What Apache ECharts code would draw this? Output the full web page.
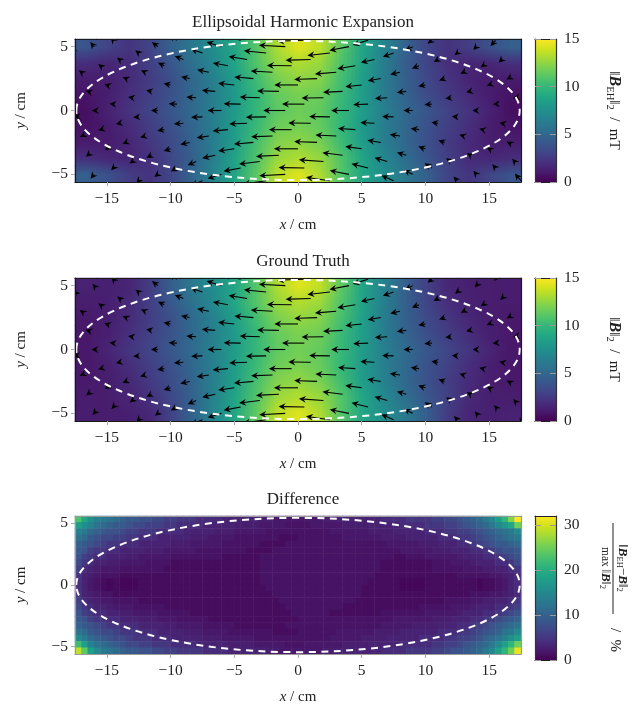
<!DOCTYPE html>
<html>
<head>
<meta charset="utf-8">
<style>html,body{margin:0;padding:0;background:#fff}#c{width:635px;height:706px}</style>
<script src="https://cdn.jsdelivr.net/npm/echarts@6/dist/echarts.min.js"></script>
</head>
<body>
<div id="c"></div>
<script>
const FONT = '"Liberation Serif", serif';
const viridis = ['#440154','#481a6c','#472f7d','#414487','#39568c','#31688e','#2a788e','#23888e','#1f988b','#22a884','#35b779','#54c568','#7ad151','#a5db36','#d2e21b','#fde725'];
const titles = ['Ellipsoidal Harmonic Expansion','Ground Truth','Difference'];
const xTicks = [-15,-10,-5,0,5,10,15];
const yTicks = [-5,0,5];
const bar1Ticks = [0,5,10,15];
const bar3Ticks = [0,10,20,30];
const ellipseAxes = [17.4,5.45];

// |B| in mT, rows top to bottom
const fieldEH = [
[3.9,3.0,2.3,3.0,4.6,6.0,7.4,8.9,11.0,13.2,14.3,13.5,11.2,8.8,6.8,4.8,3.1,2.2,2.7,3.7,4.5],
[1.9,1.6,1.8,2.8,4.0,5.5,7.0,8.8,10.9,12.6,13.2,12.7,10.8,8.6,6.4,4.5,3.1,2.0,1.5,1.6,2.0],
[1.2,1.2,1.8,2.6,3.7,5.0,6.5,8.3,10.3,11.9,12.5,12.2,10.5,8.4,6.3,4.6,3.3,2.3,1.5,1.1,1.1],
[0.8,1.2,2.0,2.8,3.8,5.0,6.4,8.1,9.9,11.4,11.9,11.6,10.2,8.3,6.3,4.8,3.5,2.6,1.8,1.1,0.7],
[0.6,1.4,2.2,3.0,4.0,5.1,6.5,8.2,9.9,11.2,11.7,11.3,10.0,8.3,6.5,5.1,4.0,3.0,2.2,1.4,0.6],
[0.7,1.1,1.8,2.7,3.7,4.9,6.4,8.3,10.1,11.6,11.9,11.4,9.9,8.1,6.4,5.0,3.8,2.8,2.0,1.2,0.8],
[1.1,1.1,1.5,2.4,3.4,4.7,6.4,8.4,10.5,12.2,12.5,11.9,10.3,8.3,6.5,5.0,3.7,2.6,1.8,1.2,1.2],
[2.0,1.6,1.5,2.1,3.2,4.6,6.5,8.7,10.8,12.7,13.2,12.6,10.9,8.8,7.0,5.4,4.0,2.8,1.8,1.6,1.9],
[4.5,3.7,2.7,2.2,3.1,4.8,6.8,8.8,11.2,13.5,14.3,13.2,11.0,8.9,7.4,6.0,4.6,3.0,2.3,3.0,3.9]];
const fieldGT = [
[1.4,1.3,1.5,2.6,4.5,6.1,7.4,8.9,11.0,13.2,14.3,13.6,11.3,8.8,6.7,4.6,2.9,1.6,1.3,1.2,1.1],
[1.2,1.3,1.7,2.8,4.1,5.6,7.1,8.9,11.0,12.7,13.3,12.8,10.9,8.7,6.5,4.6,3.1,2.0,1.4,1.2,1.1],
[1.0,1.2,1.8,2.7,3.8,5.1,6.6,8.4,10.4,12.0,12.6,12.2,10.6,8.5,6.4,4.7,3.4,2.4,1.6,1.2,1.0],
[0.9,1.3,2.0,2.9,3.9,5.1,6.5,8.2,10.0,11.5,12.0,11.7,10.2,8.4,6.4,4.9,3.6,2.7,1.9,1.3,0.9],
[0.9,1.5,2.3,3.1,4.1,5.2,6.6,8.3,10.0,11.3,11.8,11.4,10.1,8.4,6.6,5.2,4.1,3.1,2.3,1.5,0.9],
[0.9,1.3,1.9,2.8,3.8,5.0,6.5,8.4,10.2,11.7,12.0,11.5,10.0,8.2,6.5,5.1,3.9,2.9,2.0,1.3,0.9],
[1.0,1.2,1.6,2.5,3.5,4.8,6.5,8.5,10.6,12.2,12.6,12.0,10.4,8.4,6.6,5.1,3.8,2.7,1.8,1.2,1.0],
[1.1,1.2,1.5,2.1,3.3,4.7,6.6,8.8,10.9,12.8,13.3,12.7,11.0,8.9,7.1,5.5,4.1,2.9,1.7,1.3,1.2],
[1.1,1.2,1.3,1.6,3.0,4.7,6.8,8.9,11.3,13.6,14.3,13.2,11.0,8.9,7.4,6.1,4.5,2.6,1.5,1.3,1.4]];
// relative difference in %, rows top to bottom
const diffRows = [
[23,19,16,14,13,12,11,10,9,9,8,8,7,7,6,6,5,5,5,4,4,4,4,3,3,3,3,3,3,2.5,2.5,2,2,2,2,2,2,2,2,2.5,2.5,3,3,3,3,3,3,3,4,4,4,4,5,5,5,5,6,6,7,7,8,9,10,11,13,15,18,21,26,32],
[18,16,14,12,11,10,9,9,8,7,7,6,6,6,5,5,4,4,4,4,3,3,3,3,3,2.5,2.5,2.5,2.5,2,2,2,2,1.5,1.5,1.5,1.5,2,2,2,2,2,2.5,2.5,2.5,2.5,3,3,3,3,3,4,4,4,4,5,5,5,6,6,7,8,9,10,11,13,15,17,19,25],
[14,13,11,10,9,8,8,7,6,6,5,5,5,4,4,4,4,3,3,3,3,3,2.5,2.5,2.5,2,2,2,2,2,1.5,1.5,1.5,1.5,1.5,1.5,1.5,1.5,1.5,1.5,2,2,2,2,2,2,2.5,2.5,2.5,2.5,3,3,3,3,3,4,4,4,5,5,6,6,7,8,9,10,11,12,13,15],
[12,11,9,8,7,7,6,6,5,5,4,4,4,3,3,3,3,3,2.5,2.5,2.5,2,2,2,2,1.5,1.5,1.5,1.5,1.5,1.5,1.5,1,1,1,1.5,1.5,1.5,1.5,1.5,1.5,1.5,2,2,2,2,2,2,2.5,2.5,2.5,2.5,3,3,3,3,3,4,4,4,5,5,6,7,8,9,10,11,12,13],
[10,9,8,7,6,5,5,4,4,4,3,3,3,3,3,2.5,2.5,2.5,2,2,2,2,2,1.5,1.5,1.5,1.5,1.5,1.5,1,1,1,1,1.5,1.5,1.5,1.5,1.5,1.5,1.5,1.5,1.5,1.5,1.5,1.5,1.5,1.5,1.5,1.5,2,2,2,2,2,2.5,2.5,2.5,3,3,3,4,4,5,6,7,8,9,9,10,11],
[9,8,6,5,5,4,4,3,3,3,3,2.5,2.5,2.5,2,2,2,2,2,1.5,1.5,1.5,1.5,1.5,1.5,1.5,1.5,1,1,1,1,1.5,1.5,1.5,1.5,1.5,1.5,1.5,1.5,1.5,1.5,1.5,1.5,1.5,1.5,1.5,1.5,1.5,1.5,1.5,1.5,2,2,2,2,2,2.5,2.5,2.5,3,3,3,4,4,5,6,7,8,8,9],
[8,6,5,4,4,3,3,3,2.5,2.5,2,2,2,2,2,1.5,1.5,1.5,1.5,1.5,1.5,1.5,1.5,1,1,1,1,1,1,1.5,1.5,1.5,1.5,1.5,1.5,1.5,1.5,1.5,1.5,1.5,1.5,1.5,1.5,1.5,1.5,1.5,1.5,1.5,1.5,1.5,1,1,1.5,1.5,1.5,2,2,2,2,2,2.5,3,3,3,4,4,5,6,7,8],
[7,5,4,3,3,2.5,2.5,2,2,2,2,1.5,1.5,1.5,1.5,1,1,1,1,1,1,1,1,1,1,1,1,1,1,1.5,1.5,1.5,1.5,1.5,1.5,1.5,1.5,1.5,1.5,1.5,1.5,1.5,1.5,1.5,1.5,1.5,1.5,1.5,1,1,1,1,1,1,1,1,1.5,1.5,1.5,2,2,2,2.5,3,3,3,4,4,5,7],
[6,4,3,2.5,2,2,2,1.5,1.5,1.5,1.5,1.5,1.5,1.5,1,1,1,1,1,1,1,1,1,1,1,1,1,1,1,1.5,1.5,1.5,1.5,1.5,1.5,1.5,1.5,1.5,1.5,1.5,1.5,1.5,1.5,1.5,1.5,1.5,1.5,1.5,1,1,1,1,1,1,1,1,1.5,1.5,1.5,1.5,1.5,2,2,2,2.5,2.5,3,3,4,5],
[5,3,2.5,2,1.5,1.5,1.5,1,1,1,1,1,1,1,1,1,1,1,1,1,1,1,1,1,1,1,1,1,1,1.5,1.5,1.5,1.5,1.5,1.5,1.5,1.5,1.5,1.5,1.5,1.5,1.5,1.5,1.5,1.5,1.5,1.5,1,1,1,1,1,1,1,1,1,1,1,1,1,1.5,1.5,1.5,1.5,1.5,2,2,2.5,3,4],
[4.5,3,2,1.5,1,0.5,1,0.5,0.5,0.5,1,1,1,1,1,1,1,1,1,1,1,1,1,1,1,1,1,1,1,1.5,1.5,1.5,1.5,1.5,1.5,1.5,1.5,1.5,1.5,1.5,1.5,1.5,1.5,1.5,1.5,1.5,1,1,1,1,1,0.5,0.5,0.5,0.5,1,1,1,1,1,1,1,1,0.5,1,1,1.5,2,3,4],
[4.5,3,2,1.5,1,0.5,1,0.5,0.5,0.5,1,1,1,1,1,1,1,1,1,1,1,1,1,1,1,1,1,1,1,1,1.5,1.5,1.5,1.5,1.5,1.5,1.5,1.5,1.5,1.5,1.5,1.5,1.5,1.5,1.5,1,1,1,1,1,1,0.5,0.5,0.5,0.5,1,1,1,1,1,1,1,1,0.5,1,1,1.5,2,3,4],
[5,3,2.5,2,1.5,1.5,1,1,1,1,1,1,1,1,1,1,1,1,1,1,1,1,1,1,1,1,1,1,1,1,1,1.5,1.5,1.5,1.5,1.5,1.5,1.5,1.5,1.5,1.5,1.5,1.5,1.5,1.5,1,1,1,1,1,1,1,1,1,1,1,1,1,1,1,1,1,1.5,1.5,1.5,2,2,2.5,3,4],
[6,4,3,2.5,2,2,1.5,1.5,1.5,1.5,1,1,1,1,1,1,1,1,1,1,1,1,1,1,1,1,1,1,1,1,1,1,1.5,1.5,1.5,1.5,1.5,1.5,1.5,1.5,1.5,1.5,1.5,1.5,1,1,1,1,1,1,1,1,1,1,1,1,1,1,1.5,1.5,1.5,1.5,2,2,2.5,2.5,3,3,4,5],
[7,5,4,3,3,2.5,2,2,2,1.5,1.5,1.5,1.5,1.5,1,1,1,1,1,1,1,1,1,1,1,1,1,1,1,1,1,1,1,1.5,1.5,1.5,1.5,1.5,1.5,1.5,1.5,1.5,1,1,1,1,1,1,1,1,1,1,1,1,1.5,1.5,1.5,1.5,1.5,2,2,2,2.5,3,3,3,4,4,5,6],
[8,6,5,4,4,3,3,2.5,2.5,2,2,2,2,1.5,1.5,1.5,1.5,1.5,1,1,1,1,1,1,1,1,1,1,1,1,1,1,1,1,1.5,1.5,1.5,1.5,1.5,1.5,1,1,1,1,1,1,1,1,1.5,1.5,1.5,1.5,1.5,1.5,1.5,2,2,2,2,2,2.5,3,3,3,4,4,5,6,7,8],
[9,8,6,5,5,4,4,3,3,3,2.5,2.5,2.5,2,2,2,1.5,1.5,1.5,1.5,1.5,1,1,1,1,1,1,1,1,1,1,1,1,1,1,1.5,1.5,1.5,1.5,1.5,1.5,1.5,1.5,1.5,1.5,1.5,1.5,1.5,1.5,1.5,2,2,2,2,2,2,2.5,2.5,2.5,3,3,3,4,4,5,6,7,8,9,10],
[10,9,8,7,6,5,5,4,4,4,3,3,3,3,2.5,2.5,2,2,2,2,1.5,1.5,1.5,1.5,1.5,1,1,1,1,1,1,1,1,1.5,1.5,1.5,1.5,1.5,1.5,1.5,1.5,1.5,1.5,1.5,1.5,1.5,1.5,1.5,2,2,2,2,2,2.5,2.5,2.5,2.5,3,3,3,4,4,5,6,7,8,9,10,11,12],
[12,11,9,8,7,7,6,5,5,5,4,4,4,3,3,3,3,2.5,2.5,2.5,2,2,2,2,1.5,1.5,1.5,1.5,1.5,1.5,1.5,1,1,1,1,1.5,1.5,1.5,1.5,1.5,1.5,2,2,2,2,2,2,2.5,2.5,2.5,2.5,3,3,3,3,3,3,4,4,4,5,5,6,7,8,9,10,12,13,15],
[15,13,11,10,9,8,7,7,6,5,5,5,4,4,4,3,3,3,3,3,2.5,2.5,2.5,2,2,2,2,2,1.5,1.5,1.5,1.5,1.5,1.5,1.5,1.5,1.5,1.5,1.5,1.5,2,2,2,2,2,2.5,2.5,2.5,2.5,3,3,3,3,3,4,4,4,4,5,5,6,6,7,8,10,11,12,14,16,18],
[22,18,14,12,11,10,9,8,7,7,6,6,5,5,5,4,4,4,4,3,3,3,3,3,2.5,2.5,2.5,2.5,2,2,2,2,2,1.5,1.5,1.5,2,2,2,2,2,2,2.5,2.5,2.5,2.5,3,3,3,3,3,4,4,4,4,4,5,5,6,6,7,8,9,10,11,13,15,18,21,25],
[29,24,18,15,13,12,11,10,9,9,8,8,7,7,6,6,5,5,5,5,4,4,4,4,3,3,3,3,3,3,2.5,2.5,2,2,2,2,2,2,2,2.5,2.5,3,3,3,3,3,3,3,4,4,4,4,5,5,5,5,6,6,7,8,8,9,10,11,13,15,18,21,25,31]];

// arrow tails, rows top to bottom
const arrowY = [5.5,5,4.5,4,3.5,3,2.5,2,1.5,1,0.5,0,-0.5,-1,-1.5,-2,-2.5,-3,-3.5,-4,-4.5,-5,-5.5];
const arrowX = [
[-14.5,-9.5,-4.5,0.5,5.5,10.5,15.5],[-16,-11,-6,-1,4,9,14],[-17.5,-12.5,-7.5,-2.5,2.5,7.5,12.5],[-14,-9,-4,1,6,11,16],
[-15.5,-10.5,-5.5,-0.5,4.5,9.5,14.5],[-17,-12,-7,-2,3,8,13],[-13.5,-8.5,-3.5,1.5,6.5,11.5,16.5],[-15,-10,-5,0,5,10,15],
[-16.5,-11.5,-6.5,-1.5,3.5,8.5,13.5],[-13,-8,-3,2,7,12,17],[-14.5,-9.5,-4.5,0.5,5.5,10.5,15.5],[-16,-11,-6,-1,4,9,14],
[-17.5,-12.5,-7.5,-2.5,2.5,7.5,12.5],[-14,-9,-4,1,6,11,16],[-15.5,-10.5,-5.5,-0.5,4.5,9.5,14.5],[-17,-12,-7,-2,3,8,13],
[-13.5,-8.5,-3.5,1.5,6.5,11.5,16.5],[-15,-10,-5,0,5,10,15],[-16.5,-11.5,-6.5,-1.5,3.5,8.5,13.5],[-13,-8,-3,2,7,12,17],
[-14.5,-9.5,-4.5,0.5,5.5,10.5,15.5],[-16,-11,-6,-1,4,9,14],[-12.5,-7.5,-2.5,2.5,7.5,12.5,17.5]];
// arrow direction in degrees from -x, positive = upward
const arrowAngle = [
[50,33,14,-2,-17,-40,-50],[50,38,17,3,-11,-28,-48],[50,39,19,6,-6,-19,-39],[39,22,9,-2,-13,-31,-45],
[38,26,11,1,-9,-21,-36],[36,25,12,3,-5,-13,-27],[24,12,5,-2,-9,-20,-29],[21,12,6,0,-6,-11,-21],
[17,12,5,1,-3,-7,-14],[9,4,2,-1,-4,-8,-12],[5,2,1,0,-2,-4,-5],[0,0,0,0,0,0,0],
[-6,-4,-2,-1,1,2,4],[-10,-5,-2,1,3,8,11],[-16,-9,-5,0,4,8,15],[-24,-17,-8,-2,3,9,18],
[-24,-12,-5,2,9,20,29],[-32,-17,-8,0,8,17,32],[-40,-28,-13,-3,7,16,33],[-36,-24,-7,4,17,34,48],
[-46,-30,-11,1,14,33,49],[-50,-38,-17,-3,11,25,49],[-48,-23,-8,8,23,48,50]];
const arrowLenEH = [
[2.1,5.2,9.6,14.2,8.4,2.9,4.0],[3.2,3.9,8.2,13.8,10.4,4.5,2.4],[3.6,2.3,6.5,11.7,11.8,5.9,1.9],[1.7,4.8,9.7,13.2,7.3,2.7,2.4],
[1.5,3.6,8.0,12.9,9.5,4.0,1.4],[1.7,2.4,6.2,11.4,11.2,5.2,1.9],[1.9,4.6,10.0,12.0,6.9,3.0,1.1],[1.4,3.7,8.5,12.4,8.6,3.8,1.3],
[1.1,2.9,7.0,11.4,10.2,5.0,2.1],[2.3,5.1,10.5,11.4,6.5,3.0,0.8],[2.0,4.3,8.9,11.7,7.8,3.9,1.4],[1.2,3.6,7.3,11.5,9.3,4.8,2.1],
[0.7,2.9,5.9,10.6,10.8,6.0,2.9],[2.0,4.9,9.3,11.7,7.4,3.6,1.3],[1.2,3.7,8.0,11.9,9.1,4.4,1.9],[0.9,2.7,6.4,11.2,10.9,5.4,2.3],
[2.0,5.0,10.2,12.0,7.1,3.4,1.0],[1.2,3.8,8.5,12.6,8.7,3.9,1.4],[1.3,3.0,6.9,12.0,10.6,5.1,2.0],[1.8,4.8,10.9,12.9,6.9,3.1,2.0],
[1.6,3.7,9.1,13.5,8.9,4.5,2.6],[3.0,2.3,7.6,13.6,10.2,5.3,2.4],[1.9,6.6,12.2,12.6,6.9,3.0,5.0]];
const arrowLenGT = [
[1.4,5.2,9.6,14.2,8.4,2.9,1.2],[1.3,3.9,8.2,13.8,10.4,4.5,1.3],[1.1,2.2,6.5,11.7,11.8,5.9,1.5],[1.6,4.8,9.7,13.2,7.3,2.7,1.2],
[1.4,3.6,8.0,12.9,9.5,4.0,1.3],[1.1,2.4,6.2,11.4,11.2,5.2,1.7],[1.9,4.6,10.0,12.0,6.9,3.0,1.0],[1.5,3.7,8.5,12.4,8.6,3.8,1.4],
[1.2,2.9,7.0,11.4,10.2,5.0,2.1],[2.3,5.1,10.5,11.4,6.5,3.0,0.9],[2.0,4.3,8.9,11.7,7.8,3.9,1.5],[1.4,3.6,7.3,11.5,9.3,4.8,2.1],
[0.9,2.9,5.9,10.6,10.8,6.0,2.9],[2.0,4.9,9.3,11.7,7.4,3.6,1.4],[1.3,3.7,8.0,11.9,9.1,4.4,1.9],[1.0,2.7,6.4,11.2,10.9,5.4,2.3],
[2.0,5.0,10.2,12.0,7.1,3.4,1.0],[1.3,3.8,8.5,12.6,8.7,3.9,1.4],[1.1,3.0,6.9,12.0,10.6,5.1,2.0],[1.7,4.8,10.9,12.9,6.9,3.1,1.1],
[1.4,3.7,9.1,13.5,8.9,4.5,1.3],[1.2,2.0,7.6,13.6,10.2,5.3,1.4],[1.7,6.6,12.2,12.6,6.9,2.6,1.3]];

const CM_PER_MT = 0.15;
const XR = [-17.5,17.5], YR = [-5.6,5.6];
const panels = [
  {top:39, h:143, rows:fieldEH, len:arrowLenEH, max:15, ticks:bar1Ticks, smooth:true, frame:'#1a1a1a'},
  {top:278, h:143, rows:fieldGT, len:arrowLenGT, max:15, ticks:bar1Ticks, smooth:true, frame:'#1a1a1a'},
  {top:516, h:144, rows:diffRows, len:null, max:32, ticks:bar3Ticks, smooth:false, frame:'#9a9a9a'}
];
const L = 75, W = 446, BL = 535, BW = 21;

const minus = v => String(v).replace('-', '\u2212');
const grid=[], xAxis=[], yAxis=[], series=[], visualMap=[], title=[];
const tickStyle = {show:true, length:4, lineStyle:{color:'#aaa', width:1}};
const labelBase = {fontFamily:FONT, fontSize:15.5, color:'#222'};

function makeSmooth(rows, max){
  const r = rows.length, c = rows[0].length;
  const cv = document.createElement('canvas'); cv.width = c; cv.height = r;
  const ctx = cv.getContext('2d');
  for (let j=0;j<r;j++) for (let i=0;i<c;i++){
    ctx.fillStyle = echarts.color.lerp(Math.min(1,rows[j][i]/max), viridis);
    ctx.fillRect(i,j,1,1);
  }
  return cv;
}

panels.forEach((p,k)=>{
  const g = grid.length;
  grid.push({left:L, top:p.top, width:W, height:p.h, containLabel:false});
  const x0 = xAxis.length, y0 = yAxis.length;
  xAxis.push({gridIndex:g, type:'value', min:XR[0], max:XR[1], position:'bottom', z:10,
    axisLine:{show:true, onZero:false, lineStyle:{color:p.frame, width:1.2}},
    axisTick:Object.assign({customValues:xTicks}, tickStyle),
    axisLabel:Object.assign({customValues:xTicks, formatter:minus, margin:9}, labelBase),
    splitLine:{show:false},
    name:'{i|x} / cm', nameLocation:'middle', nameGap:36,
    nameTextStyle:{fontFamily:FONT, fontSize:15, color:'#222', rich:{i:{fontFamily:FONT, fontStyle:'italic', fontSize:15, color:'#222'}}}});
  xAxis.push({gridIndex:g, type:'value', min:XR[0], max:XR[1], position:'top', z:10,
    axisLine:{show:true, onZero:false, lineStyle:{color:p.frame, width:1.2}},
    axisTick:{show:false}, axisLabel:{show:false}, splitLine:{show:false}});
  xAxis.push({gridIndex:g, type:'category', show:false, data:p.rows[0].map((_,i)=>i)});
  yAxis.push({gridIndex:g, type:'value', min:YR[0], max:YR[1], position:'left', z:10,
    axisLine:{show:true, onZero:false, lineStyle:{color:p.frame, width:1.2}},
    axisTick:Object.assign({customValues:yTicks}, tickStyle),
    axisLabel:Object.assign({customValues:yTicks, formatter:minus, margin:7}, labelBase),
    splitLine:{show:false},
    name:'{i|y} / cm', nameLocation:'middle', nameGap:46,
    nameTextStyle:{fontFamily:FONT, fontSize:15, color:'#222', rich:{i:{fontFamily:FONT, fontStyle:'italic', fontSize:15, color:'#222'}}}});
  yAxis.push({gridIndex:g, type:'value', min:YR[0], max:YR[1], position:'right', z:10,
    axisLine:{show:true, onZero:false, lineStyle:{color:p.frame, width:1.2}},
    axisTick:{show:false}, axisLabel:{show:false}, splitLine:{show:false}});
  yAxis.push({gridIndex:g, type:'category', show:false, data:p.rows.map((_,j)=>j)});

  const nr = p.rows.length;
  const cells = [];
  p.rows.forEach((row,j)=>row.forEach((v,i)=>cells.push([i, nr-1-j, v])));
  const hs = series.length;
  series.push({type:'heatmap', xAxisIndex:x0+2, yAxisIndex:y0+2, data:cells, silent:true, progressive:0, z:1,
    itemStyle:{borderWidth:0}, emphasis:{disabled:true}});
  visualMap.push({show:false, type:'continuous', seriesIndex:hs, min:0, max:p.max, dimension:2, inRange:{color:viridis}});

  if (p.smooth){
    const cv = makeSmooth(p.rows, p.max);
    series.push({type:'custom', xAxisIndex:x0, yAxisIndex:y0, silent:true, z:2, data:[[0]],
      renderItem:(params,api)=>{
        const a = api.coord([XR[0],YR[1]]), b = api.coord([XR[1],YR[0]]);
        return {type:'image', style:{image:cv, x:a[0], y:a[1], width:b[0]-a[0], height:b[1]-a[1]}};
      }});
  }
  if (p.len){
    const data = [];
    arrowY.forEach((y,r)=>arrowX[r].forEach((x,c)=>data.push([x,y,p.len[r][c],arrowAngle[r][c]])));
    series.push({type:'custom', xAxisIndex:x0, yAxisIndex:y0, silent:true, clip:true, z:3, data,
      encode:{x:0,y:1},
      renderItem:(params,api)=>{
        const x=api.value(0), y=api.value(1), m=api.value(2), th=api.value(3)*Math.PI/180;
        const l=m*CM_PER_MT;
        const t=api.coord([x,y]), tip=api.coord([x-l*Math.cos(th), y+l*Math.sin(th)]);
        const dx=tip[0]-t[0], dy=tip[1]-t[1], d=Math.hypot(dx,dy)||1, ux=dx/d, uy=dy/d, nx=-uy, ny=ux;
        const h=7, w=3.4, notch=4.6;
        const head=[tip,
          [tip[0]-ux*h+nx*w, tip[1]-uy*h+ny*w],
          [tip[0]-ux*notch, tip[1]-uy*notch],
          [tip[0]-ux*h-nx*w, tip[1]-uy*h-ny*w]];
        const children=[{type:'polygon', shape:{points:head}, style:{fill:'#000'}}];
        if (d>notch) children.push({type:'line', shape:{x1:t[0],y1:t[1],x2:tip[0]-ux*notch,y2:tip[1]-uy*notch}, style:{stroke:'#000', lineWidth:1.1}});
        return {type:'group', children};
      }});
  }
  series.push({type:'custom', xAxisIndex:x0, yAxisIndex:y0, silent:true, clip:true, z:4, data:[ellipseAxes],
    encode:{x:0,y:1},
    renderItem:(params,api)=>{
      const c=api.coord([0,0]), e=api.coord([api.value(0),api.value(1)]);
      return {type:'ellipse', shape:{cx:c[0],cy:c[1],rx:e[0]-c[0],ry:c[1]-e[1]},
        style:{fill:null, stroke:'#fff', lineWidth:2, lineDash:[7,5.5]}};
    }});

  // colour bar
  const gb = grid.length;
  grid.push({left:BL, top:p.top, width:BW, height:p.h});
  const bx = xAxis.length, by = yAxis.length;
  xAxis.push({gridIndex:gb, type:'value', min:0, max:1, position:'bottom', z:10, axisLine:{show:true,onZero:false,lineStyle:{color:'#222',width:1.2}}, axisTick:{show:false}, axisLabel:{show:false}, splitLine:{show:false}});
  xAxis.push({gridIndex:gb, type:'value', min:0, max:1, position:'top', z:10, axisLine:{show:true,onZero:false,lineStyle:{color:'#222',width:1.2}}, axisTick:{show:false}, axisLabel:{show:false}, splitLine:{show:false}});
  yAxis.push({gridIndex:gb, type:'value', min:0, max:p.max, position:'right', z:10,
    axisLine:{show:true,onZero:false,lineStyle:{color:'#333',width:1.2}},
    axisTick:{show:true, inside:true, length:6, customValues:p.ticks, lineStyle:{color:'#999',width:1}},
    axisLabel:Object.assign({customValues:p.ticks, margin:8}, labelBase), splitLine:{show:false},
    name: k===0 ? '\u2016{b|B}{s|EH}\u2016{s|2}  /  mT' : (k===1 ? '\u2016{b|B}\u2016{s|2}  /  mT' : ''),
    nameLocation:'middle', nameGap:48, nameRotate:-90,
    nameTextStyle:{fontFamily:FONT, fontSize:15, color:'#222', rich:{
      b:{fontFamily:FONT, fontSize:16, fontWeight:'bold', fontStyle:'italic', color:'#222'},
      s:{fontFamily:FONT, fontSize:10.5, color:'#222', verticalAlign:'bottom', lineHeight:20}}}});
  yAxis.push({gridIndex:gb, type:'value', min:0, max:p.max, position:'left', z:10,
    axisLine:{show:true,onZero:false,lineStyle:{color:'#333',width:1.2}},
    axisTick:{show:true, inside:true, length:6, customValues:p.ticks, lineStyle:{color:'#999',width:1}},
    axisLabel:{show:false}, splitLine:{show:false}});
  series.push({type:'custom', xAxisIndex:bx, yAxisIndex:by, silent:true, z:2, data:[[0,p.max]],
    renderItem:(params,api)=>{
      const a=api.coord([0,api.value(1)]), b=api.coord([1,api.value(0)]);
      const stops=viridis.map((col,i)=>({offset:1-i/(viridis.length-1), color:col})).reverse();
      return {type:'rect', shape:{x:a[0],y:a[1],width:b[0]-a[0],height:b[1]-a[1]},
        style:{fill:new echarts.graphic.LinearGradient(0,0,0,1,stops)}};
    }});

  title.push({text:titles[k], left:L+W/2, top:p.top-30, textAlign:'center',
    textStyle:{fontFamily:FONT, fontSize:17, fontWeight:'normal', color:'#222'}});
});

const rot = -Math.PI/2;
const fracRich = {
  b:{fontFamily:FONT, fontSize:13, fontWeight:'bold', fontStyle:'italic', fill:'#222'},
  s:{fontFamily:FONT, fontSize:8.5, fill:'#222', verticalAlign:'bottom', lineHeight:14}
};
const graphic = [
  {type:'text', x:622, y:568, rotation:rot, z:20, style:{text:'\u2016{b|B}{s|EH}\u2212{b|B}\u2016{s|2}', fontFamily:FONT, fontSize:13, fill:'#222', align:'center', verticalAlign:'middle', rich:fracRich}},
  {type:'line', z:20, shape:{x1:613,y1:523,x2:613,y2:614}, style:{stroke:'#222', lineWidth:1}},
  {type:'text', x:605, y:568, rotation:rot, z:20, style:{text:'max \u2016{b|B}\u2016{s|2}', fontFamily:FONT, fontSize:11.5, fill:'#222', align:'center', verticalAlign:'middle', rich:fracRich}},
  {type:'text', x:615, y:640, rotation:rot, z:20, style:{text:'/  %', fontFamily:FONT, fontSize:15, fill:'#222', align:'center', verticalAlign:'middle'}}
];

const chart = echarts.init(document.getElementById('c'), null, {renderer:'canvas', width:635, height:706});
chart.setOption({animation:false, backgroundColor:'#fff', title, grid, xAxis, yAxis, visualMap, series, graphic});
</script>
</body>
</html>
